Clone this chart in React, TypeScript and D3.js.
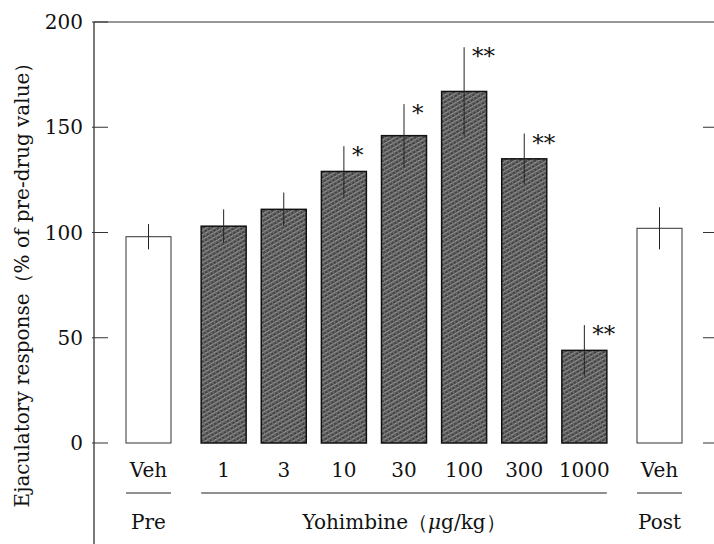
import React from 'react';
import * as d3 from 'd3';

// values
const labels = ['Veh', '1', '3', '10', '30', '100', '300', '1000', 'Veh'];
const groups = [0, 1, 1, 1, 1, 1, 1, 1, 2];
const means = [98, 103, 111, 129, 146, 167, 135, 44, 102];
const sems = [6, 8, 8, 12, 15, 21, 12, 12, 10];
const stars = ['', '', '', '*', '*', '**', '**', '**', ''];
const groupNames = ['Pre', 'Yohimbine', 'Post'];
const yTicks = [0, 50, 100, 150, 200];

const W = 714;
const H = 544;
const axisX = 94;
const barW = 45;
const font = '"DejaVu Serif", "Liberation Serif", serif';

export default function App() {
  const slot = labels.map((_, i) => i + 0.25 * groups[i]);
  const x = d3.scaleLinear().domain([0, 8.5]).range([148.5, 659.5]);
  const y = d3.scaleLinear().domain([0, 200]).range([443, 22]);

  // extent of each group underline
  const groupSpan = groupNames.map((_, g) => {
    const idx = labels.map((_, i) => i).filter(i => groups[i] === g);
    return [x(slot[idx[0]]) - barW / 2, x(slot[idx[idx.length - 1]]) + barW / 2];
  });

  return (
    <svg width={W} height={H} style={{ position: 'absolute', left: 0, top: 0, background: '#fff' }}>
      <defs>
        <pattern id="hatch" width="4" height="4" patternUnits="userSpaceOnUse" patternTransform="rotate(-30)">
          <rect width="4" height="4" fill="#444" />
          <rect x="0" y="0" width="4" height="1.3" fill="#999" />
          <rect x="0" y="0" width="1.2" height="4" fill="#6e6e6e" />
        </pattern>
      </defs>

      {/* frame */}
      <line x1={axisX} x2={axisX} y1={y(200)} y2={H} stroke="#222" strokeWidth={1.2} />
      <line x1={axisX} x2={W} y1={y(200)} y2={y(200)} stroke="#333" strokeWidth={1.2} />

      {yTicks.map(t => (
        <g key={t}>
          <line x1={axisX - 2} x2={axisX + 14} y1={y(t)} y2={y(t)} stroke="#333" strokeWidth={1} />
          {t < 200 && <line x1={W - 11} x2={W} y1={y(t)} y2={y(t)} stroke="#333" strokeWidth={1} />}
          <text x={83} y={y(t)} dy="0.35em" textAnchor="end" fontFamily={font} fontSize={20} fill="#111">
            {t}
          </text>
        </g>
      ))}

      <text
        transform={`translate(22,${280}) rotate(-90)`}
        textAnchor="middle"
        dy="0.35em"
        fontFamily={font}
        fontSize={20}
        fill="#111"
      >
        Ejaculatory response（% of pre-drug value）
      </text>

      {means.map((m, i) => {
        const cx = x(slot[i]);
        const filled = groups[i] === 1;
        return (
          <g key={i}>
            <rect
              x={cx - barW / 2}
              y={y(m)}
              width={barW}
              height={y(0) - y(m)}
              fill={filled ? 'url(#hatch)' : '#fff'}
              stroke={filled ? '#111' : '#333'}
              strokeWidth={filled ? 1.5 : 1}
            />
            <line x1={cx} x2={cx} y1={y(m + sems[i])} y2={y(m - sems[i])} stroke="#222" strokeWidth={1} />
            {stars[i] && (
              <text
                x={cx + 8}
                y={y(m + sems[i]) + 17}
                fontFamily={font}
                fontSize={23}
                fill="#111"
              >
                {stars[i]}
              </text>
            )}
            <text x={cx} y={470} dy="0.35em" textAnchor="middle" fontFamily={font} fontSize={20} fill="#111">
              {labels[i]}
            </text>
          </g>
        );
      })}

      {groupNames.map((g, gi) => {
        const [a, b] = groupSpan[gi];
        return (
          <g key={g}>
            <line x1={a} x2={b} y1={493} y2={493} stroke="#222" strokeWidth={1.2} />
            <text x={(a + b) / 2} y={522} dy="0.35em" textAnchor="middle" fontFamily={font} fontSize={20} fill="#111">
              {gi === 1 ? (
                <>
                  Yohimbine（<tspan fontStyle="italic">μ</tspan>g/kg）
                </>
              ) : (
                g
              )}
            </text>
          </g>
        );
      })}
    </svg>
  );
}
